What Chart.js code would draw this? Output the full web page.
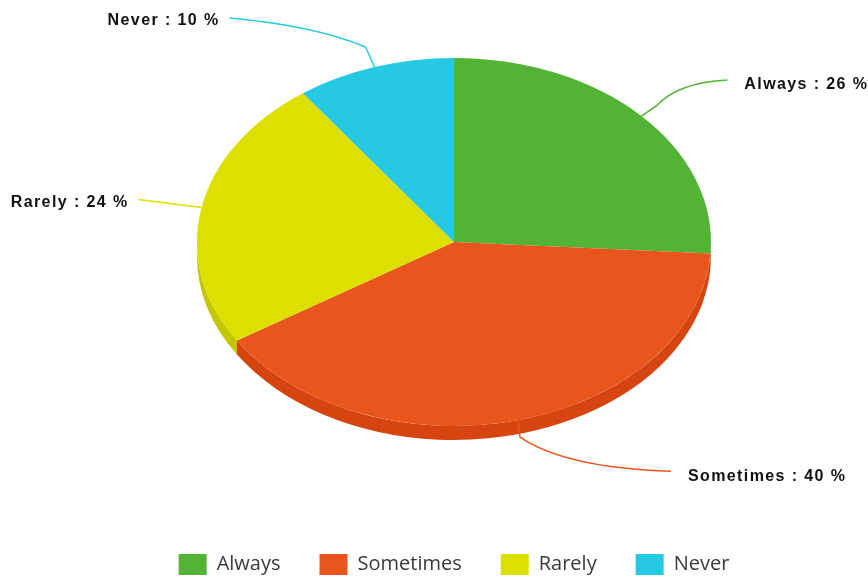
<!DOCTYPE html>
<html>
<head>
<meta charset="utf-8">
<script src="https://cdn.jsdelivr.net/npm/chart.js@4"></script>
<style>
  html, body { margin: 0; padding: 0; background: #ffffff; }
  #wrap { width: 868px; height: 580px; }
</style>
</head>
<body>
<div id="wrap"><canvas id="c" width="868" height="580"></canvas></div>
<script>
// ---- data ----
const categories = ['Always', 'Sometimes', 'Rarely', 'Never'];
const percentages = [26, 40, 24, 10];

// ---- styling ----
const topColors  = ['#52b335', '#e9561d', '#dcdf00', '#26c9e2'];
const sideColors = ['#45992a', '#d6440f', '#c4c700', '#1eb0c7'];
// leader-line end positions relative to the slice edge anchor (layout only)
const leaderEnds = [[86, -36], [153, 51], [-63, -8], [-145, -49]];
const elbowLens  = [18, 17, 0, 22];
const bends      = [1, 1, 0, 0.6];

const pie3d = {
  id: 'pie3d',
  beforeDatasetsDraw(chart, args, opts) {
    const ctx = chart.ctx;
    const meta = chart.getDatasetMeta(0);
    const p = meta.data[0].getProps(['x', 'y', 'outerRadius'], true);
    const cx = p.x, cy = p.y + opts.offsetY, r = p.outerRadius, k = opts.tilt, d = opts.depth;
    // side walls (visible lower half only)
    meta.data.forEach((arc, i) => {
      const a = arc.getProps(['startAngle', 'endAngle'], true);
      [-2 * Math.PI, 0, 2 * Math.PI].forEach(off => {
        const lo = Math.max(a.startAngle + off, 0);
        const hi = Math.min(a.endAngle + off, Math.PI);
        if (hi > lo) {
          ctx.beginPath();
          ctx.ellipse(cx, cy + d, r, r * k, 0, lo, hi, false);
          ctx.ellipse(cx, cy, r, r * k, 0, hi, lo, true);
          ctx.closePath();
          ctx.fillStyle = sideColors[i];
          ctx.fill();
        }
      });
    });
    ctx.save();
    ctx.translate(cx, cy);
    ctx.scale(1, k);
    ctx.translate(-p.x, -p.y);
  },
  afterDatasetsDraw(chart, args, opts) {
    const ctx = chart.ctx;
    ctx.restore();
    const meta = chart.getDatasetMeta(0);
    const total = percentages.reduce((s, v) => s + v, 0);
    meta.data.forEach((arc, i) => {
      const a = arc.getProps(['x', 'y', 'startAngle', 'endAngle', 'outerRadius'], true);
      const cx = a.x, cy = a.y + opts.offsetY, r = a.outerRadius, k = opts.tilt;
      const mid = (a.startAngle + a.endAngle) / 2;
      const s = Math.sin(mid), c = Math.cos(mid);
      const x0 = cx + r * c;
      const y0 = cy + r * k * s;
      let ux = c, uy = s * k;
      if (s > 0) { ux = c * 0.5; uy = 1; }
      const n = Math.hypot(ux, uy); ux /= n; uy /= n;
      const x1 = x0 + ux * elbowLens[i], y1 = y0 + uy * elbowLens[i];
      const x2 = x0 + leaderEnds[i][0], y2 = y0 + leaderEnds[i][1];
      ctx.save();
      ctx.strokeStyle = topColors[i];
      ctx.lineWidth = 1.5;
      ctx.beginPath();
      ctx.moveTo(x0, y0);
      ctx.lineTo(x1, y1);
      const sx = (x1 + x2) / 2, sy = (y1 + y2) / 2;
      const kx = x1 + (x2 - x1) * 0.3, ky = y2 + (y1 - y2) * 0.1;
      const b = bends[i];
      ctx.quadraticCurveTo(sx + (kx - sx) * b, sy + (ky - sy) * b, x2, y2);
      ctx.stroke();
      // label
      const right = x2 > x0;
      ctx.font = 'bold 16px "Liberation Sans", Arial, sans-serif';
      if ('letterSpacing' in ctx) ctx.letterSpacing = '1.4px';
      ctx.fillStyle = '#111111';
      ctx.textBaseline = 'middle';
      ctx.textAlign = right ? 'left' : 'right';
      const txt = categories[i] + ' : ' + Math.round(percentages[i] / total * 100) + ' %';
      ctx.fillText(txt, right ? x2 + 17 : x2 - 10, y2 + (right ? 5 : 3));
      ctx.restore();
    });
  }
};

new Chart(document.getElementById('c'), {
  type: 'pie',
  data: {
    labels: categories,
    datasets: [{
      data: percentages,
      backgroundColor: topColors,
      borderWidth: 0,
      radius: 257,
      clip: false
    }]
  },
  options: {
    responsive: false,
    animation: false,
    layout: { padding: { left: 40, right: 0, top: 0, bottom: 0 } },
    plugins: {
      tooltip: { enabled: false },
      legend: {
        position: 'bottom',
        maxHeight: 65,
        labels: {
          boxWidth: 28,
          boxHeight: 21,
          padding: 39,
          color: '#3a3a3a',
          font: { family: '"Open Sans", "Noto Sans", sans-serif', size: 20 }
        }
      },
      pie3d: { tilt: 0.716, depth: 14, offsetY: -15.5 }
    }
  },
  plugins: [pie3d]
});
</script>
</body>
</html>
